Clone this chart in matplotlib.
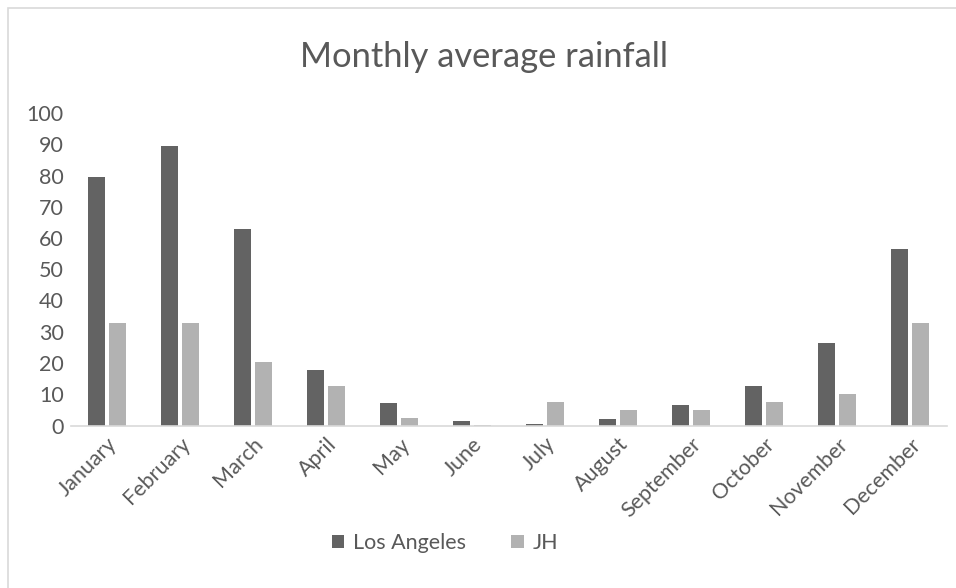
import matplotlib
matplotlib.use("Agg")
import matplotlib.pyplot as plt
import numpy as np
from matplotlib.patches import Rectangle

months = ["January", "February", "March", "April", "May", "June", "July",
          "August", "September", "October", "November", "December"]
los_angeles = [79.5, 89.5, 63.0, 17.8, 7.2, 1.5, 0.5, 2.1, 6.6, 12.7, 26.4, 56.5]
jh = [32.8, 32.8, 20.3, 12.6, 2.4, 0.1, 7.5, 5.0, 5.0, 7.6, 10.1, 32.8]
yticks = [0, 10, 20, 30, 40, 50, 60, 70, 80, 90, 100]

plt.rcParams['font.family'] = ['Lato', 'DejaVu Sans']
txt = '#595959'

W, H = 956, 588
fig = plt.figure(figsize=(W / 100, H / 100), dpi=100)
ax = fig.add_axes([70.5 / W, 1 - 425.5 / H, 876 / W, (425.5 - 113) / H])

x = np.arange(len(months))
bw = 0.235
off = 0.144
ax.bar(x - off, los_angeles, bw, color='#636363', label='Los Angeles', zorder=2)
ax.bar(x + off, jh, bw, color='#b2b2b2', label='JH', zorder=2)

ax.set_xlim(-0.5, len(months) - 0.5)
ax.set_ylim(0, 100)
ax.set_yticks(yticks)
ax.set_yticklabels([str(v) for v in yticks], fontsize=15.5, color=txt)
ax.set_xticks(x)
ax.set_xticklabels(months, rotation=45, ha='right', rotation_mode='anchor',
                   fontsize=15.5, color=txt)
ax.tick_params(axis='both', length=0)
ax.tick_params(axis='y', pad=5)
ax.tick_params(axis='x', pad=6)
for s in ['top', 'right', 'left']:
    ax.spines[s].set_visible(False)
ax.spines['bottom'].set_color('#d9d9d9')
ax.spines['bottom'].set_linewidth(1.2)
ax.spines['bottom'].set_zorder(3)

fig.text(484 / W, 1 - 57 / H, 'Monthly average rainfall', ha='center', va='center',
         fontsize=24.8, color=txt)

leg = fig.legend(loc='center', bbox_to_anchor=(445 / W, 1 - 543 / H), ncol=2,
                 frameon=False, fontsize=15.5, handlelength=0.6, handleheight=0.6,
                 columnspacing=2.1, handletextpad=0.4)
for t in leg.get_texts():
    t.set_color(txt)

fig.patches.append(Rectangle((8 / W, -0.05), 1.1, 1 - 8 / H + 0.05,
                             transform=fig.transFigure, fill=False,
                             edgecolor='#d9d9d9', linewidth=1.2))

fig.savefig('out.png', dpi=100)
